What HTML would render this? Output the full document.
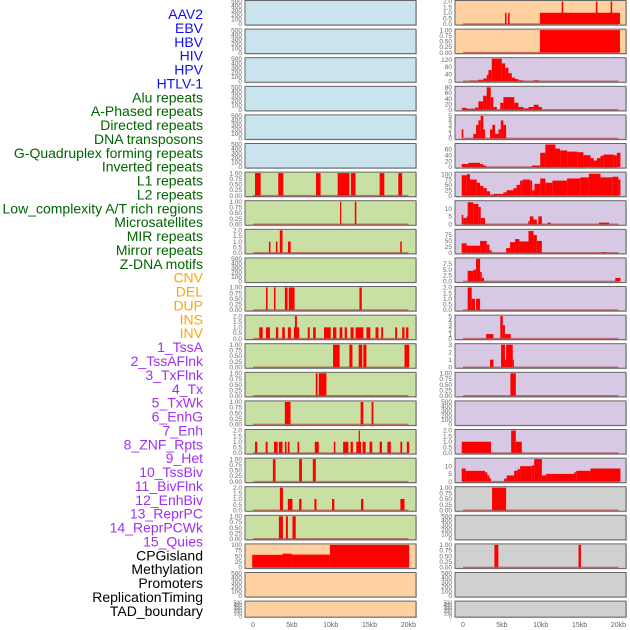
<!DOCTYPE html>
<html><head><meta charset="utf-8"><style>
html,body{margin:0;padding:0;background:#fff;}
svg{display:block;font-family:"Liberation Sans",sans-serif;}
</style></head><body>
<svg id="chart" width="630" height="630" viewBox="0 0 630 630" xmlns="http://www.w3.org/2000/svg"></svg>
<script>
// ---- labels ----
const trackLabels = ["AAV2","EBV","HBV","HIV","HPV","HTLV-1","Alu repeats","A-Phased repeats","Directed repeats","DNA transposons","G-Quadruplex forming repeats","Inverted repeats","L1 repeats","L2 repeats","Low_complexity A/T rich regions","Microsatellites","MIR repeats","Mirror repeats","Z-DNA motifs","CNV","DEL","DUP","INS","INV","1_TssA","2_TssAFlnk","3_TxFlnk","4_Tx","5_TxWk","6_EnhG","7_Enh","8_ZNF_Rpts","9_Het","10_TssBiv","11_BivFlnk","12_EnhBiv","13_ReprPC","14_ReprPCWk","15_Quies","CPGisland","Methylation","Promoters","ReplicationTiming","TAD_boundary"];
const labelGroups = [6,13,5,15,5];
const xTicks = [0,5,10,15,20];
const xTickLabels = ["0","5kb","10kb","15kb","20kb"];

// ---- left column data: [startKb, endKb, value] ----
const left6 = [[0.26,0.99,1],[3.25,3.9,1],[8.1,8.7,1],[10.9,12.4,1],[12.6,13.2,1],[16.3,16.9,1],[18.7,19.2,1]];
const left7 = [[11.2,11.35,1],[13.1,13.3,1]];
const left8 = [[2.05,2.25,1],[2.95,3.15,1],[3.45,3.8,2],[4.5,4.85,1],[18.95,19.15,1]];
const left10 = [[1.67,1.88,1],[2.7,2.9,1],[4.1,4.45,1],[4.6,5.35,1],[13.7,14.0,1]];
const left11 = [[0.8,1.25,1],[1.67,2.18,1],[2.95,3.25,1],[3.76,4.1,1],[4.49,4.87,1],[5.26,5.94,1],[5.4,5.65,2],[7.05,7.3,1],[7.74,8.08,1],[9.14,10.0,1],[10.3,10.73,1],[11.15,11.5,1],[11.8,12.09,1],[12.56,12.95,1],[13.2,14.2,1],[14.6,15.1,1],[15.77,16.15,1],[16.5,16.75,1],[18.3,18.55,1],[19.2,19.5,1],[19.7,20.0,1]];
const left12 = [[10.3,11.15,1],[12.4,12.8,1],[13.6,14.06,1],[14.2,14.6,1],[19.5,20.1,1]];
const left13 = [[8.08,8.3,1],[8.46,9.45,1]];
const left14 = [[4.1,4.83,1],[13.85,14.2,1],[15.26,15.5,1]];
const left15 = [[0.26,0.55,1],[1.63,1.88,1],[2.7,3.17,1],[3.33,3.8,1],[4.1,4.32,1],[4.49,4.7,1],[5.73,5.94,1],[7.95,8.46,1],[10.4,10.6,1],[11.6,12.27,1],[12.56,12.86,1],[13.3,13.9,1],[13.6,13.76,2],[14.1,14.5,1],[15.0,15.35,1],[16.3,16.6,1],[17.3,17.73,1],[18.97,19.2,1],[19.8,20.1,1]];
const left16 = [[2.56,2.9,1],[5.94,6.3,1],[7.7,8.08,1]];
const left17 = [[3.46,3.85,2],[4.49,5.08,1],[5.94,6.24,1],[7.9,8.17,1],[10.17,10.47,1],[13.9,14.2,1],[18.97,19.5,1]];
const left18 = [[3.33,3.85,1],[4.23,4.49,1],[5.08,5.5,1]];
const left19 = [[-0.1,3.8,56],[3.8,4.96,61],[4.96,9.9,57],[9.9,20.1,100]];

// ---- right column data ----
const right0 = [[5.4,5.6,1],[5.8,6.0,1],[9.9,20.2,1],[12.7,12.9,2],[17.1,17.3,2],[19.0,19.2,2]];
const right1 = [[9.9,20.2,1]];
const right2 = [[0.9,1.98,4],[1.98,2.6,8],[2.6,3.05,15],[3.05,3.27,35],[3.27,3.7,62],[3.7,4.99,126],[4.99,5.42,100],[5.42,5.85,75],[5.85,6.28,45],[6.28,6.7,20],[6.7,7.14,12],[7.14,7.78,5],[9.1,9.8,5]];
const right3 = [[-0.17,0.47,7],[0.47,1.55,4],[1.55,1.98,8],[1.98,2.6,30],[2.6,3.05,50],[3.05,3.57,80],[3.57,3.9,45],[3.9,4.35,10],[4.8,5.2,25],[5.2,6.6,45],[6.6,7.14,25],[7.14,7.78,10],[7.78,8.43,5],[8.43,9.1,10],[9.1,9.72,18],[9.72,10.15,10]];
const right4 = [[-0.17,0.04,2],[1.33,1.68,1],[1.68,1.98,3],[1.98,2.28,4],[2.28,2.62,5],[2.62,2.84,2],[3.48,3.78,2],[3.78,4.13,3],[4.13,4.56,1],[4.56,4.86,2],[4.86,5.2,4],[5.2,5.55,3]];
const right5 = [[-0.17,0.7,10],[0.7,2.2,14],[2.2,2.62,10],[2.62,2.97,5],[8.86,9.94,5],[9.94,10.6,48],[10.6,11.9,76],[11.9,12.5,62],[12.5,13.4,56],[13.4,14.7,52],[14.7,15.5,50],[15.5,16.4,40],[16.4,16.8,30],[16.8,17.25,22],[17.25,17.7,30],[17.7,18.1,38],[18.1,19.4,42],[19.4,19.8,40],[19.8,20.26,48]];
const right6 = [[-0.17,0.48,95],[0.48,0.9,100],[0.9,1.77,75],[1.77,2.2,60],[2.2,2.62,45],[2.62,3.05,35],[3.05,3.48,20],[3.48,3.9,5],[3.9,5.2,8],[5.2,5.6,15],[5.6,6.5,25],[6.5,6.9,35],[6.9,7.35,50],[7.35,7.7,70],[7.7,8.64,75],[8.64,8.9,70],[8.9,9.2,25],[9.2,9.94,55],[9.94,10.6,80],[10.6,11.5,60],[11.5,13.4,70],[13.4,15.1,80],[15.1,16.2,85],[16.2,17.7,102],[17.7,19.2,85],[19.2,20.0,88],[20.0,20.26,75]];
const right7 = [[-0.17,0.04,6],[0.04,0.47,4],[0.47,0.6,5],[0.6,1.33,14],[1.33,1.98,13],[1.98,2.28,11],[2.28,2.84,4],[8.4,8.6,2],[8.6,9.07,5],[9.07,9.5,3],[9.7,10.15,5],[10.9,11.3,1],[17.5,18.8,1]];
const right8 = [[-0.17,0.47,40],[0.47,2.2,30],[2.2,3.05,50],[3.05,3.4,35],[3.4,3.7,10],[5.55,6.06,20],[6.06,6.7,45],[6.7,7.26,58],[7.26,8.43,48],[8.43,9.07,92],[9.07,9.5,75],[9.5,10.15,50],[17.8,18.4,3]];
const right9 = [[0.6,1.33,4.5],[1.33,1.68,5],[1.68,2.2,9.6],[2.2,2.41,4],[2.41,2.71,1.5],[19.6,20.26,1.5]];
const right10 = [[0.6,1.12,2],[1.12,1.55,1],[1.68,2.2,1]];
const right11 = [[2.97,3.92,1],[4.8,5.12,5],[5.12,5.4,3],[5.4,6.15,1]];
const right12 = [[3.48,3.92,1],[4.9,5.4,3],[5.4,5.55,1],[5.55,6.4,3],[6.4,6.55,1]];
const right13 = [[6.1,6.8,1]];
const right15 = [[-0.17,3.6,1],[6.2,6.8,2],[6.8,7.57,1]];
const right16 = [[-0.17,0.34,8.5],[0.34,2.84,7],[2.84,3.14,6],[3.14,3.4,4],[3.4,3.61,2],[5.29,5.63,2],[5.63,6.58,4],[6.58,7.0,7],[7.0,7.35,8],[7.35,8.86,10],[8.86,9.16,10.5],[9.16,10.15,14.6],[10.15,10.7,4],[10.7,14.3,5],[14.3,14.58,6],[14.58,16.4,7],[16.4,20.26,8.5]];
const right17 = [[3.74,5.55,1]];
const right19 = [[4.04,4.55,1],[14.87,15.18,1]];

// ---- y-axis tick arrays ----
const t500 = ["0","100","200","300","400","500"], v500=[0,100,200,300,400,500];
const t1 = ["0.00","0.25","0.50","0.75","1.00"], v1=[0,0.25,0.5,0.75,1];
const t2 = ["0.0","0.5","1.0","1.5","2.0"], v2=[0,0.5,1,1.5,2];

const BLUE="#c9e4ec", GREEN="#c8e0a4", ORANGE="#ffd1a0", PURPLE="#d7c8e3", GRAY="#d0d0d0";
// [bg, data, ymax, tickVals, tickLabels]
const leftPanels = [
 [BLUE,null,500,v500,t500],[BLUE,null,500,v500,t500],[BLUE,null,500,v500,t500],[BLUE,null,500,v500,t500],[BLUE,null,500,v500,t500],[BLUE,null,500,v500,t500],
 [GREEN,left6,1,v1,t1],[GREEN,left7,1,v1,t1],[GREEN,left8,2,v2,t2],[GREEN,null,500,v500,t500],[GREEN,left10,1,v1,t1],[GREEN,left11,2,v2,t2],
 [GREEN,left12,1,v1,t1],[GREEN,left13,1,v1,t1],[GREEN,left14,1,v1,t1],[GREEN,left15,2,v2,t2],[GREEN,left16,1,v1,t1],[GREEN,left17,2,v2,t2],[GREEN,left18,1,v1,t1],
 [ORANGE,left19,100,[0,25,50,75,100],["0","25","50","75","100"]],[ORANGE,null,500,v500,t500],[ORANGE,null,500,v500,t500]];
const rightPanels = [
 [ORANGE,right0,2,v2,t2],[ORANGE,right1,1,v1,t1],
 [PURPLE,right2,126,[0,40,80,120],["0","40","80","120"]],[PURPLE,right3,80,[0,20,40,60,80],["0","20","40","60","80"]],
 [PURPLE,right4,5,[0,1,2,3,4,5],["0","1","2","3","4","5"]],[PURPLE,right5,76,[0,20,40,60],["0","20","40","60"]],
 [PURPLE,right6,105,[0,25,50,75,100],["0","25","50","75","100"]],[PURPLE,right7,14.4,[0,5,10],["0","5","10"]],
 [PURPLE,right8,95,[0,25,50,75],["0","25","50","75"]],[PURPLE,right9,9.6,[0,2.5,5,7.5],["0.0","2.5","5.0","7.5"]],
 [PURPLE,right10,2,v2,t2],[PURPLE,right11,5,[0,1,2,3,4,5],["0","1","2","3","4","5"]],[PURPLE,right12,3,[0,1,2,3],["0","1","2","3"]],
 [PURPLE,right13,1,v1,t1],[PURPLE,null,500,v500,t500],[PURPLE,right15,2,v2,t2],[PURPLE,right16,14.6,[0,5,10],["0","5","10"]],
 [GRAY,right17,1,v1,t1],[GRAY,null,500,v500,t500],[GRAY,right19,1,v1,t1],[GRAY,null,500,v500,t500],[GRAY,null,500,v500,t500]];

const NS="http://www.w3.org/2000/svg";
const svg=document.getElementById('chart');
function mk(tag,attrs,parent){const e=document.createElementNS(NS,tag);for(const k in attrs)e.setAttribute(k,attrs[k]);(parent||svg).appendChild(e);return e;}

// labels
const groupColors=["#1010ee","#006400","#ffa500","#a030f0","#000000"];
let gi=0,cnt=0;
trackLabels.forEach((lab,i)=>{
  while(cnt>=labelGroups[gi]){cnt=0;gi++;}
  cnt++;
  const t=mk('text',{x:203,y:14+i*13.88+5,'text-anchor':'end','font-size':'14',fill:groupColors[gi]});
  
  
  t.textContent=lab;
});

function xScale(x0,kb){return x0+8+kb*7.77;}
function drawPanel(p,i,x0,side){
  const top=0.5+28.6*i, h=(i===21)?16:24.5, w=171;
  const g=mk('g',{});
  
  
  mk('rect',{x:x0+1,y:top+1,width:w,height:h,fill:'#999',opacity:0.5},g);
  mk('rect',{x:x0,y:top,width:w,height:h,fill:p[0],stroke:'#666','stroke-width':1},g);
  const ymax=p[2];
  const ys=v=>top+h-1-(Math.min(v,ymax)/ymax)*(h-2);
  p[3].forEach((v,k)=>{
    const t=mk('text',{x:x0-3,y:ys(v)+2.2,'text-anchor':'end','font-size':(i===21?5:6.5),fill:'#666'},g);
    
    
    t.textContent=p[4][k];
  });
  if(p[1]){
    p[1].forEach(s=>{
      const xa=xScale(x0,s[0]), xb=xScale(x0,s[1]);
      const r=mk('rect',{x:xa,y:ys(s[2]),width:Math.max(xb-xa,1.2),height:ys(0)-ys(s[2]),fill:'#ff0000'},g);
      
      
    });
    const bl=mk('line',{x1:xScale(x0,0),x2:xScale(x0,20),y1:ys(0),y2:ys(0),stroke:'#b03030','stroke-opacity':0.6,'stroke-width':1.5},g);
    
    
  }
}
leftPanels.forEach((p,i)=>drawPanel(p,i,245,'left'));
rightPanels.forEach((p,i)=>drawPanel(p,i,455,'right'));

[245,455].forEach(x0=>{
  xTicks.forEach((v,k)=>{
    const t=mk('text',{x:xScale(x0,v),y:627,'text-anchor':'middle','font-size':7,fill:'#666'});
    
    
    t.textContent=xTickLabels[k];
  });
});
</script>
</body></html>
